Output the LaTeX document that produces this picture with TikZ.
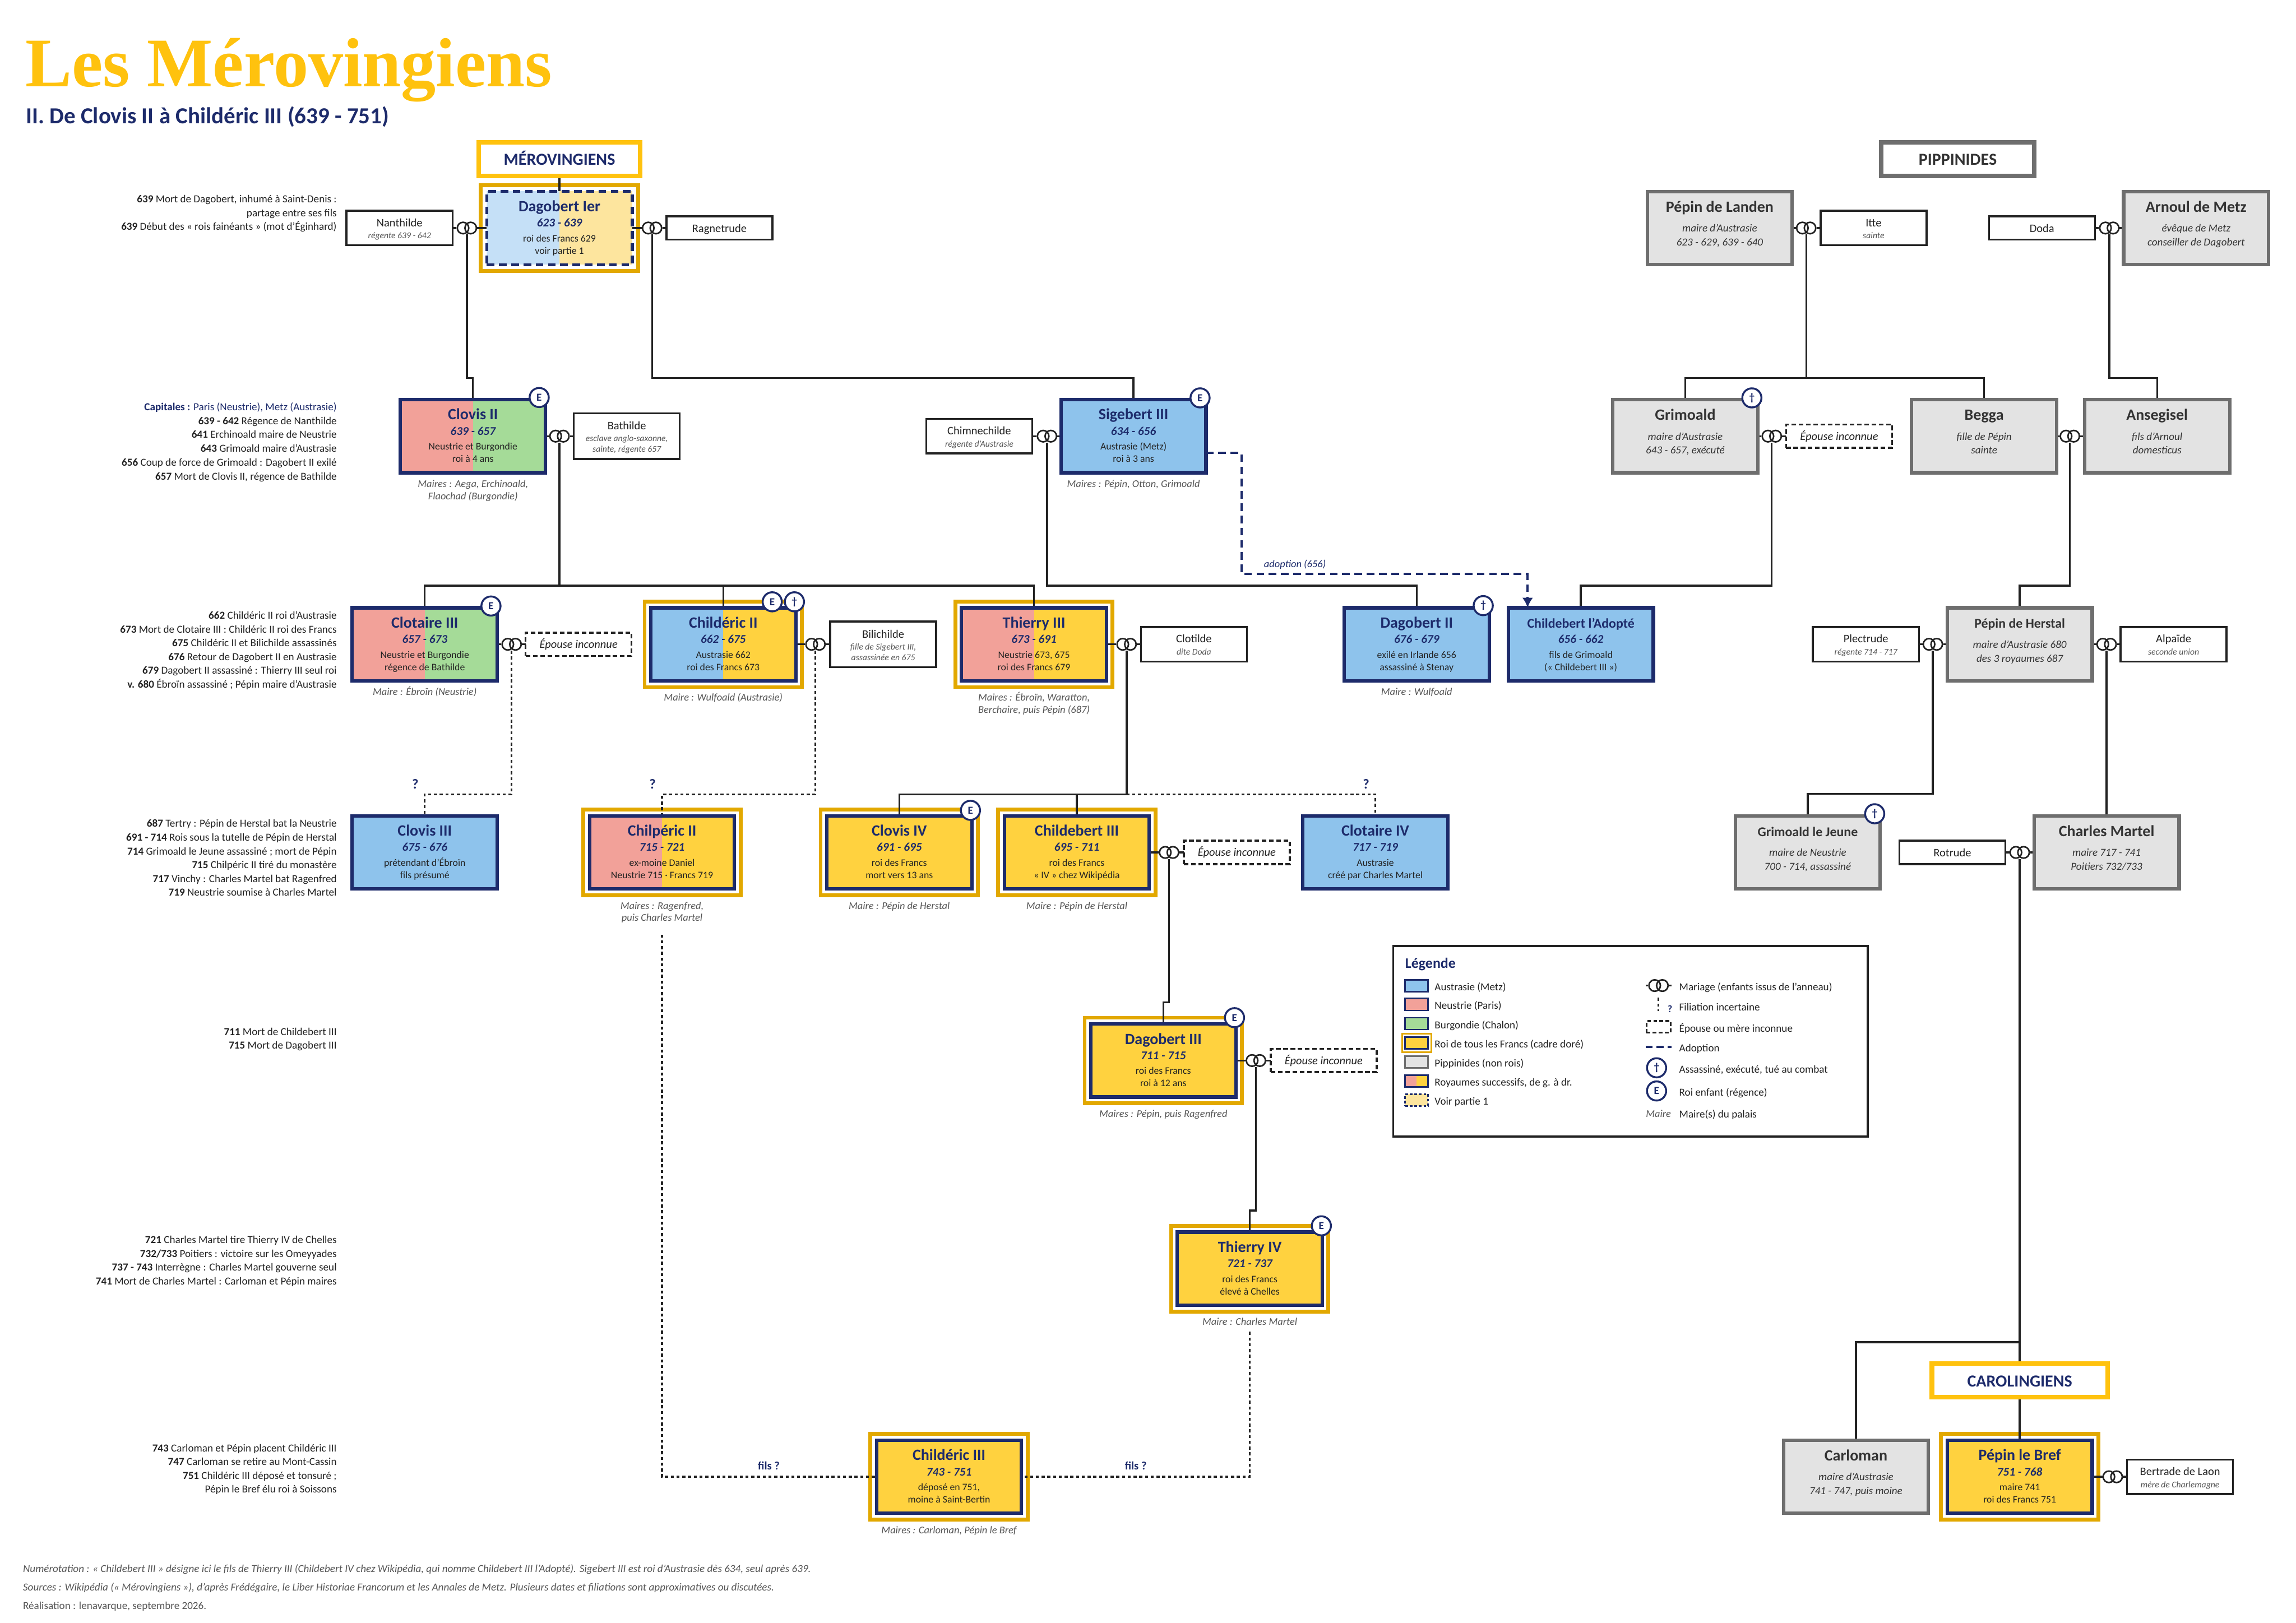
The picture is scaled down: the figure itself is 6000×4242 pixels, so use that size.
\documentclass[tikz,border=0pt]{standalone}
\usepackage{fontspec}
\setmainfont{Carlito}
\newfontfamily\ttlfont{Liberation Serif}
\usetikzlibrary{arrows.meta}
\pgfdeclarelayer{frames}\pgfdeclarelayer{links}
\pgfsetlayers{frames,links,main}
\definecolor{cNavy}{HTML}{1D2B6B}
\definecolor{cGold}{HTML}{E2A800}
\definecolor{cYel}{HTML}{FFC20E}
\definecolor{cOr}{HTML}{FFD23F}
\definecolor{cAus}{HTML}{8EC3EC}
\definecolor{cNeu}{HTML}{F2A199}
\definecolor{cBur}{HTML}{A5DB98}
\definecolor{cVb}{HTML}{C5E0F7}
\definecolor{cVy}{HTML}{FDE59E}
\definecolor{cGris}{HTML}{6E6E6E}
\definecolor{cGf}{HTML}{E3E3E3}
\definecolor{cInk}{HTML}{222222}
\definecolor{cDk}{HTML}{333333}
\definecolor{cSub}{HTML}{555555}
\newcommand\fs[1]{\fontsize{#1}{#1}\selectfont}
\tikzset{
 x=1pt,y=-1pt,
 base/.style={rectangle,inner sep=0pt,outer sep=0pt},
 roi/.style={base,draw=cNavy,line width=9pt,minimum width=379pt,minimum height=191pt},
 gr/.style={base,draw=cGris,fill=cGf,line width=9pt,minimum width=379pt,minimum height=191pt},
 cadre/.style={base,draw=cGold,fill=white,line width=10pt,minimum width=411pt,minimum height=224pt},
 spo/.style={base,draw=cInk,fill=white,line width=5pt,minimum width=277pt},
 spd/.style={base,draw=cInk,fill=white,line width=5pt,minimum width=277pt,minimum height=61pt,dash pattern=on 12pt off 7pt},
 etiq/.style={base,fill=white,line width=12pt,minimum height=88pt},
 split/.style 2 args={path picture={\fill[#1] (path picture bounding box.north west) rectangle (path picture bounding box.south);\fill[#2] (path picture bounding box.north) rectangle (path picture bounding box.south east);}},
 nm/.style={anchor=base,inner sep=0pt,font=\fs{41}\bfseries,text=cNavy},
 nms/.style={anchor=base,inner sep=0pt,font=\fs{35}\bfseries,text=cNavy},
 dt/.style={anchor=base,inner sep=0pt,font=\fs{31}\bfseries\itshape,text=cNavy},
 ln/.style={anchor=base,inner sep=0pt,font=\fs{26},text=cInk},
 gnm/.style={anchor=base,inner sep=0pt,font=\fs{41}\bfseries,text=cDk},
 gnms/.style={anchor=base,inner sep=0pt,font=\fs{35}\bfseries,text=cDk},
 gln/.style={anchor=base,inner sep=0pt,font=\fs{28}\itshape,text=cDk},
 snm/.style={anchor=base,inner sep=0pt,font=\fs{30},text=cInk},
 ssb/.style={anchor=base,inner sep=0pt,font=\fs{23}\itshape,text=cSub},
 sin/.style={anchor=base,inner sep=0pt,font=\fs{30}\itshape,text=cInk},
 mr/.style={anchor=base,inner sep=0pt,font=\fs{27}\itshape,text=cSub},
 sd/.style={anchor=base east,inner sep=0pt,font=\fs{28},text=cInk},
 lg/.style={anchor=base west,inner sep=0pt,font=\fs{28},text=cInk},
 qm/.style={anchor=base,inner sep=0pt,font=\fs{36}\bfseries,text=cNavy},
 foot/.style={anchor=base west,inner sep=0pt,font=\fs{28},text=cSub},
 badge/.style={circle,draw=cNavy,fill=white,line width=5pt,minimum size=50pt,inner sep=0pt,font=\fs{28}\bfseries,text=cNavy},
 ringbox/.style={base,minimum width=54pt,minimum height=34pt},
 ringline/.style={draw=cInk,line width=4pt},
 stem/.style={draw=cInk,line width=5pt},
 link/.style={draw=cInk,line width=5pt,line join=miter},
 dot/.style={draw=cInk,line width=5pt,dash pattern=on 8pt off 7pt},
 adopt/.style={draw=cNavy,line width=6pt,dash pattern=on 20pt off 12pt},
 swatch/.style={base,draw=cNavy,line width=4pt,minimum width=60pt,minimum height=31pt},
}
\newcommand\Cadre[3]{\begin{pgfonlayer}{frames}\node[cadre] (#1) at (#2,#3) {};\end{pgfonlayer}}
\newcommand\Roi[8]{\node[roi,#4] (#1) at (#2,#3) {};
 \node[nm] (#1-a) at (#2,{#3-43}) {#5};
 \node[dt] (#1-b) at (#2,{#3-3}) {#6};
 \node[ln] (#1-c) at (#2,{#3+36}) {#7};
 \node[ln] (#1-d) at (#2,{#3+68}) {#8};}
\newcommand\Pip[7]{\node[gr] (#1) at (#2,#3) {};
 \node[#7] (#1-a) at (#2,{#3-42}) {#4};
 \node[gln] (#1-c) at (#2,{#3+10}) {#5};
 \node[gln] (#1-d) at (#2,{#3+46}) {#6};}
\newcommand\SpA[4]{\node[spo,minimum height=61pt] (#1) at (#2,#3) {};
 \node[snm] (#1-a) at (#2,{#3+11}) {#4};}
\newcommand\SpB[5]{\node[spo,minimum height=90pt] (#1) at (#2,#3) {};
 \node[snm] (#1-a) at (#2,{#3-4}) {#4};
 \node[ssb] (#1-c) at (#2,{#3+28}) {#5};}
\newcommand\SpC[6]{\node[spo,minimum height=119pt] (#1) at (#2,#3) {};
 \node[snm] (#1-a) at (#2,{#3-17}) {#4};
 \node[ssb] (#1-c) at (#2,{#3+14}) {#5};
 \node[ssb] (#1-d) at (#2,{#3+42}) {#6};}
\newcommand\SpI[3]{\node[spd] (#1) at (#2,#3) {};
 \node[sin] (#1-a) at (#2,{#3+10}) {Épouse inconnue};}
\newcommand\Anneau[3]{\node[ringbox] (#1) at (#2,#3) {};
 \draw[ringline] ([xshift=-10pt]#1.center) circle (15pt);
 \draw[ringline] ([xshift=10pt]#1.center) circle (15pt);}
\newcommand\Lk[4][link]{\draw[#1] (#2) -- (#2 |- 0,#3) -- (#4 |- 0,#3) -- (#4);}
\newcommand\Wed[3]{\draw[stem] (#1.east) -- (#2.west);\draw[stem] (#2.east) -- (#3.west);}
\begin{document}
\begin{tikzpicture}
\useasboundingbox (0,0) rectangle (6000,4242);
\begin{pgfonlayer}{frames}\fill[white] (0,0) rectangle (6000,4242);\end{pgfonlayer}
% Titles
\node[anchor=base west,inner sep=0pt,font=\ttlfont\fs{182}\bfseries,text=cYel] (titre) at (66,226) {Les Mérovingiens};
\node[anchor=base west,inner sep=0pt,font=\fs{60}\bfseries,text=cNavy] (stitre) at (68,323) {II. De Clovis II à Childéric III (639 - 751)};
% Dynasty labels
\node[etiq,draw=cYel,minimum width=421pt,text=cNavy,font=\fs{44}\bfseries] (mero) at (1462,416) {};
\node[anchor=base,inner sep=0pt,font=\fs{44}\bfseries,text=cNavy] (mero-t) at (1462,432) {MÉROVINGIENS};
\node[etiq,draw=cGris,minimum width=400pt] (pip) at (5116,416) {};
\node[anchor=base,inner sep=0pt,font=\fs{44}\bfseries,text=cDk] (pip-t) at (5116,432) {PIPPINIDES};
\node[etiq,draw=cYel,minimum width=459pt] (caro) at (5278,3608) {};
\node[anchor=base,inner sep=0pt,font=\fs{44}\bfseries,text=cNavy] (caro-t) at (5278,3624) {CAROLINGIENS};
% Gold frames
\Cadre{fDag}{1462}{596}\Cadre{fChd}{1890}{1684}\Cadre{fThi}{2702}{1684}
\Cadre{fChp}{1730}{2228}\Cadre{fClv}{2350}{2228}\Cadre{fChb}{2814}{2228}
\Cadre{fDg3}{3040}{2772}\Cadre{fTh4}{3266}{3316}\Cadre{fCh3}{2480}{3860}\Cadre{fBrf}{5278}{3860}
% Kings
\node[roi,split={cVb}{cVy},line width=8pt,minimum width=380pt,minimum height=192pt,dash pattern=on 20pt off 12pt] (dagobert) at (1462,596) {};
\node[nm] (dagobert-a) at (1462,553) {Dagobert Ier};
\node[dt] (dagobert-b) at (1462,593) {623 - 639};
\node[ln] (dagobert-c) at (1462,632) {roi des Francs 629};
\node[ln] (dagobert-d) at (1462,664) {voir partie 1};
\Roi{clovisII}{1236}{1140}{split={cNeu}{cBur}}{Clovis II}{639 - 657}{Neustrie et Burgondie}{roi à 4 ans}
\Roi{sigebert}{2962}{1140}{fill=cAus}{Sigebert III}{634 - 656}{Austrasie (Metz)}{roi à 3 ans}
\Roi{clotaire}{1110}{1684}{split={cNeu}{cBur}}{Clotaire III}{657 - 673}{Neustrie et Burgondie}{régence de Bathilde}
\Roi{childII}{1890}{1684}{split={cAus}{cOr}}{Childéric II}{662 - 675}{Austrasie 662}{roi des Francs 673}
\Roi{thierryIII}{2702}{1684}{split={cNeu}{cOr}}{Thierry III}{673 - 691}{Neustrie 673, 675}{roi des Francs 679}
\Roi{dagobertII}{3702}{1684}{fill=cAus}{Dagobert II}{676 - 679}{exilé en Irlande 656}{assassiné à Stenay}
\node[roi,fill=cAus] (childA) at (4131,1684) {};
\node[nms] (childA-a) at (4131,1641) {Childebert l'Adopté};
\node[dt] (childA-b) at (4131,1681) {656 - 662};
\node[ln] (childA-c) at (4131,1720) {fils de Grimoald};
\node[ln] (childA-d) at (4131,1752) {(« Childebert III »)};
\Roi{clovisIII}{1110}{2228}{fill=cAus}{Clovis III}{675 - 676}{prétendant d'Ébroïn}{fils présumé}
\Roi{chilperic}{1730}{2228}{split={cNeu}{cOr}}{Chilpéric II}{715 - 721}{ex-moine Daniel}{Neustrie 715 · Francs 719}
\Roi{clovisIV}{2350}{2228}{fill=cOr}{Clovis IV}{691 - 695}{roi des Francs}{mort vers 13 ans}
\Roi{childebertIII}{2814}{2228}{fill=cOr}{Childebert III}{695 - 711}{roi des Francs}{« IV » chez Wikipédia}
\Roi{clotaireIV}{3594}{2228}{fill=cAus}{Clotaire IV}{717 - 719}{Austrasie}{créé par Charles Martel}
\Roi{dagIII}{3040}{2772}{fill=cOr}{Dagobert III}{711 - 715}{roi des Francs}{roi à 12 ans}
\Roi{thierryIV}{3266}{3316}{fill=cOr}{Thierry IV}{721 - 737}{roi des Francs}{élevé à Chelles}
\Roi{childIII}{2480}{3860}{fill=cOr}{Childéric III}{743 - 751}{déposé en 751,}{moine à Saint-Bertin}
\Roi{bref}{5278}{3860}{fill=cOr}{Pépin le Bref}{751 - 768}{maire 741}{roi des Francs 751}
% Pippinids
\Pip{landen}{4494}{596}{Pépin de Landen}{maire d'Austrasie}{623 - 629, 639 - 640}{gnm}
\Pip{arnoul}{5739}{596}{Arnoul de Metz}{évêque de Metz}{conseiller de Dagobert}{gnm}
\Pip{grimoald}{4404}{1140}{Grimoald}{maire d'Austrasie}{643 - 657, exécuté}{gnm}
\Pip{begga}{5185}{1140}{Begga}{fille de Pépin}{sainte}{gnm}
\Pip{ansegisel}{5637}{1140}{Ansegisel}{fils d'Arnoul}{domesticus}{gnm}
\Pip{herstal}{5278}{1684}{Pépin de Herstal}{maire d'Austrasie 680}{des 3 royaumes 687}{gnms}
\Pip{gjeune}{4724}{2228}{Grimoald le Jeune}{maire de Neustrie}{700 - 714, assassiné}{gnms}
\Pip{martel}{5505}{2228}{Charles Martel}{maire 717 - 741}{Poitiers 732/733}{gnm}
\Pip{carloman}{4850}{3860}{Carloman}{maire d'Austrasie}{741 - 747, puis moine}{gnm}
% Spouses
\SpB{nanthilde}{1044}{596}{Nanthilde}{régente 639 - 642}
\SpA{ragnetrude}{1880}{596}{Ragnetrude}
\SpC{bathilde}{1638}{1140}{Bathilde}{esclave anglo-saxonne,}{sainte, régente 657}
\SpB{chimne}{2559}{1140}{Chimnechilde}{régente d'Austrasie}
\SpI{spClo}{1512}{1684}
\SpC{bilichilde}{2308}{1684}{Bilichilde}{fille de Sigebert III,}{assassinée en 675}
\SpB{clotilde}{3120}{1684}{Clotilde}{dite Doda}
\SpI{spChb}{3232}{2228}
\SpI{spDag}{3459}{2772}
\SpB{itte}{4896}{596}{Itte}{sainte}
\SpA{doda}{5336}{596}{Doda}
\SpI{spGri}{4806}{1140}
\SpB{plectrude}{4876}{1684}{Plectrude}{régente 714 - 717}
\SpB{alpaide}{5680}{1684}{Alpaïde}{seconde union}
\SpA{rotrude}{5102}{2228}{Rotrude}
\SpB{bertrade}{5697}{3860}{Bertrade de Laon}{mère de Charlemagne}
% Rings
\Anneau{rNan}{1220}{596}\Anneau{rRag}{1704}{596}\Anneau{rClo}{1462}{1140}\Anneau{rChim}{2736}{1140}
\Anneau{rClt}{1337}{1684}\Anneau{rChd}{2131}{1684}\Anneau{rThi}{2944}{1684}\Anneau{rChb}{3055}{2228}
\Anneau{rDag}{3282}{2772}\Anneau{rLan}{4720}{596}\Anneau{rArn}{5512}{596}\Anneau{rGri}{4630}{1140}
\Anneau{rBeg}{5409}{1140}\Anneau{rPle}{5051}{1684}\Anneau{rAlp}{5505}{1684}\Anneau{rRot}{5278}{2228}\Anneau{rBrt}{5521}{3860}
% Badges
\node[badge] (bClovisII) at (1409,1039) {E};
\node[badge] (bSig) at (3136,1040) {E};
\node[badge] (bClot) at (1283,1584) {E};
\node[badge] (bChdE) at (2018,1573) {E};
\node[badge] (bChdT) at (2076,1573) {†};
\node[badge] (bDagII) at (3876,1583) {†};
\node[badge] (bGri) at (4578,1040) {†};
\node[badge] (bGj) at (4899,2127) {†};
\node[badge] (bClvIV) at (2536,2118) {E};
\node[badge] (bDgIII) at (3226,2660) {E};
\node[badge] (bThIV) at (3453,3204) {E};
% Mayors
\node[mr] (m1) at (1236,1274) {Maires : Aega, Erchinoald,};
\node[mr] (m2) at (1236,1306) {Flaochad (Burgondie)};
\node[mr] (m3) at (2962,1273) {Maires : Pépin, Otton, Grimoald};
\node[mr] (m4) at (1110,1817) {Maire : Ébroïn (Neustrie)};
\node[mr] (m5) at (1890,1832) {Maire : Wulfoald (Austrasie)};
\node[mr] (m6) at (2702,1832) {Maires : Ébroïn, Waratton,};
\node[mr] (m7) at (2702,1864) {Berchaire, puis Pépin (687)};
\node[mr] (m8) at (3702,1817) {Maire : Wulfoald};
\node[mr] (m9) at (1730,2376) {Maires : Ragenfred,};
\node[mr] (m10) at (1730,2408) {puis Charles Martel};
\node[mr] (m11) at (2350,2376) {Maire : Pépin de Herstal};
\node[mr] (m12) at (2814,2376) {Maire : Pépin de Herstal};
\node[mr] (m13) at (3040,2920) {Maires : Pépin, puis Ragenfred};
\node[mr] (m14) at (3266,3463) {Maire : Charles Martel};
\node[mr] (m15) at (2480,4008) {Maires : Carloman, Pépin le Bref};
% Question marks
\node[qm] (q1) at (1085,2062) {?};
\node[qm] (q2) at (1705,2062) {?};
\node[qm] (q3) at (3570,2062) {?};
\node[qm,font=\fs{30}\bfseries] (f1) at (2009,3842) {fils ?};
\node[qm,font=\fs{30}\bfseries] (f2) at (2968,3842) {fils ?};
\node[anchor=base,inner sep=0pt,font=\fs{27}\itshape,text=cNavy] (adl) at (3384,1483) {adoption (656)};
% Side chronology
\node[sd] (s11) at (880,530) {\textbf{639} Mort de Dagobert, inhumé à Saint-Denis :};
\node[sd] (s12) at (880,566) {partage entre ses fils};
\node[sd] (s13) at (880,602) {\textbf{639} Début des « rois fainéants » (mot d'Éginhard)};
\node[sd,text=cNavy] (s21) at (880,1073) {\textbf{Capitales :} Paris (Neustrie), Metz (Austrasie)};
\node[sd] (s22) at (880,1109) {\textbf{639 - 642} Régence de Nanthilde};
\node[sd] (s23) at (880,1145) {\textbf{641} Erchinoald maire de Neustrie};
\node[sd] (s24) at (880,1181) {\textbf{643} Grimoald maire d'Austrasie};
\node[sd] (s25) at (880,1218) {\textbf{656} Coup de force de Grimoald : Dagobert II exilé};
\node[sd] (s26) at (880,1254) {\textbf{657} Mort de Clovis II, régence de Bathilde};
\node[sd] (s31) at (880,1618) {\textbf{662} Childéric II roi d'Austrasie};
\node[sd] (s32) at (880,1654) {\textbf{673} Mort de Clotaire III : Childéric II roi des Francs};
\node[sd] (s33) at (880,1690) {\textbf{675} Childéric II et Bilichilde assassinés};
\node[sd] (s34) at (880,1726) {\textbf{676} Retour de Dagobert II en Austrasie};
\node[sd] (s35) at (880,1762) {\textbf{679} Dagobert II assassiné : Thierry III seul roi};
\node[sd] (s36) at (880,1798) {\textbf{v. 680} Ébroïn assassiné ; Pépin maire d'Austrasie};
\node[sd] (s41) at (880,2162) {\textbf{687} Tertry : Pépin de Herstal bat la Neustrie};
\node[sd] (s42) at (880,2198) {\textbf{691 - 714} Rois sous la tutelle de Pépin de Herstal};
\node[sd] (s43) at (880,2234) {\textbf{714} Grimoald le Jeune assassiné ; mort de Pépin};
\node[sd] (s44) at (880,2270) {\textbf{715} Chilpéric II tiré du monastère};
\node[sd] (s45) at (880,2306) {\textbf{717} Vinchy : Charles Martel bat Ragenfred};
\node[sd] (s46) at (880,2342) {\textbf{719} Neustrie soumise à Charles Martel};
\node[sd] (s51) at (880,2706) {\textbf{711} Mort de Childebert III};
\node[sd] (s52) at (880,2742) {\textbf{715} Mort de Dagobert III};
\node[sd] (s61) at (880,3250) {\textbf{721} Charles Martel tire Thierry IV de Chelles};
\node[sd] (s62) at (880,3286) {\textbf{732/733} Poitiers : victoire sur les Omeyyades};
\node[sd] (s63) at (880,3322) {\textbf{737 - 743} Interrègne : Charles Martel gouverne seul};
\node[sd] (s64) at (880,3358) {\textbf{741} Mort de Charles Martel : Carloman et Pépin maires};
\node[sd] (s71) at (880,3794) {\textbf{743} Carloman et Pépin placent Childéric III};
\node[sd] (s72) at (880,3830) {\textbf{747} Carloman se retire au Mont-Cassin};
\node[sd] (s73) at (880,3866) {\textbf{751} Childéric III déposé et tonsuré ;};
\node[sd] (s74) at (880,3902) {Pépin le Bref élu roi à Soissons};
% Footer
\node[foot,font=\fs{28}\itshape] (ft1) at (60,4109) {Numérotation : « Childebert III » désigne ici le fils de Thierry III (Childebert IV chez Wikipédia, qui nomme Childebert III l'Adopté). Sigebert III est roi d'Austrasie dès 634, seul après 639.};
\node[foot,font=\fs{28}\itshape] (ft2) at (60,4158) {Sources : Wikipédia (« Mérovingiens »), d'après Frédégaire, le Liber Historiae Francorum et les Annales de Metz. Plusieurs dates et filiations sont approximatives ou discutées.};
\node[foot] (ft3) at (60,4206) {Réalisation : lenavarque, septembre 2026.};
% Legend
\node[base,draw=cInk,fill=white,line width=5pt,minimum width=1240pt,minimum height=498pt] (leg) at (4260.5,2721.5) {};
\node[anchor=base west,inner sep=0pt,font=\fs{38}\bfseries,text=cNavy] (leg-t) at (3672,2530) {Légende};
\node[base,draw=cGold,fill=white,line width=5pt,minimum width=76pt,minimum height=48pt] (lf) at (3702,2726) {};
\node[swatch,fill=cAus] (l1) at (3702,2576.5) {};
\node[swatch,fill=cNeu] (l2) at (3702,2625.5) {};
\node[swatch,fill=cBur] (l3) at (3702,2675.5) {};
\node[swatch,fill=cOr] (l4) at (3702,2726) {};
\node[swatch,draw=cGris,fill=cGf] (l5) at (3702,2775.5) {};
\node[swatch,split={cNeu}{cOr}] (l6) at (3702,2825.5) {};
\node[swatch,fill=cVy,dash pattern=on 7pt off 5pt] (l7) at (3702,2875.5) {};
\node[lg] (t1) at (3749,2589) {Austrasie (Metz)};
\node[lg] (t2) at (3749,2638) {Neustrie (Paris)};
\node[lg] (t3) at (3749,2688) {Burgondie (Chalon)};
\node[lg] (t4) at (3749,2738) {Roi de tous les Francs (cadre doré)};
\node[lg] (t5) at (3749,2788) {Pippinides (non rois)};
\node[lg] (t6) at (3749,2838) {Royaumes successifs, de g. à dr.};
\node[lg] (t7) at (3749,2888) {Voir partie 1};
\Anneau{lr}{4334}{2576}
\coordinate (lrA) at (4301,2576);\coordinate (lrB) at (4368,2576);
\draw[stem] (lrA) -- (lr.west);\draw[stem] (lr.east) -- (lrB);
\coordinate (lfA) at (4334,2608);\coordinate (lfB) at (4334,2642);
\draw[dot] (lfA) -- (lfB);
\node[qm,font=\fs{26}\bfseries] (lq) at (4364,2646) {?};
\node[base,draw=cInk,fill=white,line width=5pt,minimum width=63pt,minimum height=30pt,dash pattern=on 10pt off 6pt] (ls) at (4334,2684) {};
\coordinate (laA) at (4300,2736);\coordinate (laB) at (4368,2736);
\draw[adopt,dash pattern=on 19pt off 10pt] (laA) -- (laB);
\node[badge] (lbT) at (4329,2791) {†};
\node[badge] (lbE) at (4329,2851.5) {E};
\node[anchor=base,inner sep=0pt,font=\fs{27}\itshape,text=cSub] (lm) at (4334,2920) {Maire};
\node[lg] (u1) at (4388,2589) {Mariage (enfants issus de l'anneau)};
\node[lg] (u2) at (4388,2642) {Filiation incertaine};
\node[lg] (u3) at (4388,2697) {Épouse ou mère inconnue};
\node[lg] (u4) at (4388,2749) {Adoption};
\node[lg] (u5) at (4388,2804) {Assassiné, exécuté, tué au combat};
\node[lg] (u6) at (4388,2864) {Roi enfant (régence)};
\node[lg] (u7) at (4388,2922) {Maire(s) du palais};
% Connectors
\begin{pgfonlayer}{links}
\Wed{nanthilde}{rNan}{dagobert}
\Wed{dagobert}{rRag}{ragnetrude}
\Wed{clovisII}{rClo}{bathilde}
\Wed{chimne}{rChim}{sigebert}
\Wed{clotaire}{rClt}{spClo}
\Wed{childII}{rChd}{bilichilde}
\Wed{thierryIII}{rThi}{clotilde}
\Wed{childebertIII}{rChb}{spChb}
\Wed{dagIII}{rDag}{spDag}
\Wed{landen}{rLan}{itte}
\Wed{doda}{rArn}{arnoul}
\Wed{grimoald}{rGri}{spGri}
\Wed{begga}{rBeg}{ansegisel}
\Wed{plectrude}{rPle}{herstal}
\Wed{herstal}{rAlp}{alpaide}
\Wed{rotrude}{rRot}{martel}
\Wed{bref}{rBrt}{bertrade}
\draw[link] (mero.south) -- (dagobert.north);
\Lk{rNan.south}{988}{clovisII.north}
\Lk{rRag.south}{988}{sigebert.north}
\draw[link] (rClo.south) -- (rClo.south |- 0,1531);
\Lk{clotaire.north}{1531}{thierryIII.north}
\draw[link] (childII.north |- 0,1531) -- (childII.north);
\Lk{rChim.south}{1531}{dagobertII.north}
\draw[link] (rThi.south) -- (rThi.south |- 0,2076);
\Lk{clovisIV.north}{2076}{rThi.south |- 0,2076}
\draw[link] (childebertIII.north |- 0,2076) -- (childebertIII.north);
\Lk{rChb.south}{2620}{dagIII.north}
\Lk{rDag.south}{3164}{thierryIV.north}
\Lk{rGri.south}{1531}{childA.north}
\Lk{rBeg.south}{1531}{herstal.north}
\draw[link] (rLan.south) -- (rLan.south |- 0,988);
\Lk{grimoald.north}{988}{begga.north}
\Lk{rArn.south}{988}{ansegisel.north}
\Lk{rPle.south}{2075}{gjeune.north}
\draw[link] (rAlp.south) -- (martel.north);
\draw[link] (rRot.south) -- (bref.north);
\draw[link] (rRot.south |- 0,3508) -- (carloman.north |- 0,3508) -- (carloman.north);
% Uncertain filiations
\Lk[dot]{rClt.south}{2076}{clovisIII.north}
\Lk[dot]{rChd.south}{2076}{chilperic.north}
\draw[dot] (rThi.south |- 0,2076) -- (clotaireIV.north |- 0,2076) -- (clotaireIV.north);
\coordinate (cpB) at (1730,2443);\coordinate (t4B) at (3266,3481);
\draw[dot] (cpB) |- (childIII.west);
\draw[dot] (t4B) |- (childIII.east);
% Adoption
\coordinate (adA) at (3244,1500);
\draw[adopt,-{Latex[length=26pt,width=28pt]}] ([yshift=-44pt]sigebert.east) -| (adA) -| ([xshift=-139pt]childA.north);
\end{pgfonlayer}
\end{tikzpicture}
\end{document}
